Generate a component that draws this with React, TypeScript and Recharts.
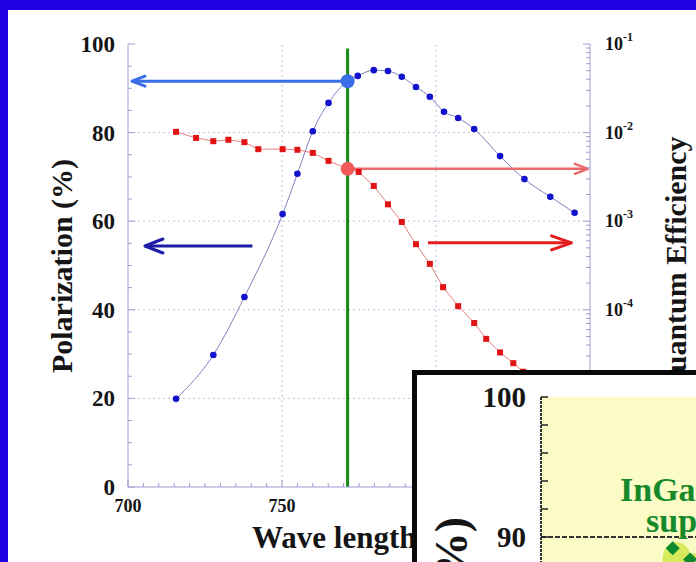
import React from 'react';
import { ComposedChart, Line, Scatter, XAxis, YAxis, ReferenceLine, ReferenceDot, CartesianGrid } from 'recharts';

const FONT = '"Liberation Serif", "Times New Roman", serif';
const FRAME = '#9e9ed2';

// ---- main chart data ----
const polWave = [715.6, 727.7, 737.8, 750.2, 755.0, 760.0, 765.1, 771.3, 774.6, 779.8, 784.4, 788.9, 793.5, 798.0, 802.6, 807.2, 812.4, 820.8, 828.7, 837.1, 845.0];
const polValue = [19.9, 29.8, 42.9, 61.6, 70.7, 80.3, 86.7, 91.6, 92.8, 94.1, 93.9, 92.6, 90.3, 88.1, 84.7, 83.3, 80.8, 74.7, 69.5, 65.5, 61.9];

const qeWave = [715.6, 722.1, 727.7, 732.6, 737.8, 742.3, 750.2, 755.0, 760.0, 765.1, 771.3, 774.9, 779.8, 784.4, 788.9, 793.5, 798.0, 802.3, 807.2, 812.4, 816.3, 820.8, 825.1, 828.3];
const qeValue = [1.02e-2, 8.7e-3, 8.0e-3, 8.3e-3, 7.8e-3, 6.5e-3, 6.5e-3, 6.4e-3, 5.9e-3, 4.8e-3, 3.9e-3, 3.6e-3, 2.5e-3, 1.55e-3, 9.8e-4, 5.5e-4, 3.3e-4, 1.8e-4, 1.1e-4, 7.1e-5, 4.7e-5, 3.3e-5, 2.5e-5, 2.0e-5];

const markerWave = 771.3;
const markerPol = 91.6;
const markerQE = 3.9e-3;
const markerLineTop = 99;

// tick labels that are visible (the rest lie under the inset)
const xLabelTicks = [700, 750];
const xMajorTicks = [700, 750, 800, 850];
const leftMajorTicks = [0, 20, 40, 60, 80, 100];
const rightDecades = [-6, -5, -4, -3, -2, -1];
const rightLabelDecades = [-4, -3, -2, -1];
const gridX = [750, 800];
const gridY = [20, 40, 60, 80];

// arrows: axis, start wavelength, end wavelength, level
const arrowAxis = ['left', 'right', 'left', 'right'];
const arrowFrom = [771.3, 771.3, 740.4, 797.4];
const arrowTo = [701.3, 849.3, 705.5, 844.0];
const arrowLevel = [91.6, 3.9e-3, 54.4, 5.7e-4];

// ---- inset data ----
const insetX = [6.9, 8.9];
const insetY = [89.2, 88.4];
const insetYTicks = [80, 82, 84, 86, 88, 90, 92, 94, 96, 98, 100];
const insetYLabels = [90, 100];
const insetXTicks = [2, 3, 4, 5, 6, 7, 8, 9, 10, 20, 30, 40, 50, 60, 70, 80, 90, 100];

const polData = polWave.map((x, i) => ({ x, y: polValue[i] }));
const qeData = qeWave.map((x, i) => ({ x, y: qeValue[i] }));
const insetData = insetX.map((x, i) => ({ x, y: insetY[i] }));

const xMinor: number[] = [];
for (let v = 700; v <= 850; v += 5) xMinor.push(v);
const leftMinor: number[] = [];
for (let v = 0; v <= 100; v += 5) leftMinor.push(v);
const rightTicks: number[] = [];
rightDecades.forEach((e) => {
  for (let m = 1; m <= 9; m++) {
    const v = m * Math.pow(10, e);
    if (v <= 0.1 * 1.0001) rightTicks.push(v);
  }
});

const arrowStyles = [
  { color: '#3a6ee8', width: 3, head: 13, spread: 5 },
  { color: '#ec6a6a', width: 2.5, head: 13, spread: 5 },
  { color: '#1c1ca6', width: 3, head: 18, spread: 7 },
  { color: '#e41e1e', width: 3, head: 20, spread: 7 },
];

const makeArrow = (style: any) => (props: any) => {
  const { x1, y1, x2, y2 } = props;
  const dir = Math.sign(x2 - x1);
  return (
    <g>
      <line x1={x1} y1={y1} x2={x2} y2={y2} stroke={style.color} strokeWidth={style.width} />
      <polyline
        points={`${x2 - dir * style.head},${y2 - style.spread} ${x2},${y2} ${x2 - dir * style.head},${y2 + style.spread}`}
        fill="none"
        stroke={style.color}
        strokeWidth={style.width}
        strokeLinecap="round"
        strokeLinejoin="round"
      />
    </g>
  );
};

const BottomTick = (props: any) => {
  const { x, y, payload } = props;
  const v = payload.value;
  const major = xMajorTicks.includes(v);
  return (
    <g>
      <line x1={x} y1={y} x2={x} y2={y - (major ? 7 : 4)} stroke={FRAME} />
      {xLabelTicks.includes(v) && (
        <text x={x} y={y + 25} textAnchor="middle" fontSize={18} fontWeight="bold" fontFamily={FONT} fill="#151515">
          {v}
        </text>
      )}
    </g>
  );
};

const TopTick = (props: any) => {
  const { x, y, payload } = props;
  const major = xMajorTicks.includes(payload.value);
  return <line x1={x} y1={y} x2={x} y2={y + (major ? 7 : 4)} stroke={FRAME} />;
};

const LeftTick = (props: any) => {
  const { x, y, payload } = props;
  const v = payload.value;
  const major = leftMajorTicks.includes(v);
  return (
    <g>
      <line x1={x} y1={y} x2={x + (major ? 7 : 4)} y2={y} stroke={FRAME} />
      {major && (
        <text x={x - 13} y={y} dy="0.35em" textAnchor="end" fontSize={23} fontWeight="bold" fontFamily={FONT} fill="#151515">
          {v}
        </text>
      )}
    </g>
  );
};

const RightTick = (props: any) => {
  const { x, y, payload } = props;
  const v = payload.value;
  const e = Math.round(Math.log10(v));
  const decade = Math.abs(v - Math.pow(10, e)) / v < 1e-6;
  return (
    <g>
      <line x1={x} y1={y} x2={x - (decade ? 7 : 4)} y2={y} stroke={FRAME} />
      {decade && rightLabelDecades.includes(e) && (
        <text x={x + 15} y={y + 6} fontSize={18} fontWeight="bold" fontFamily={FONT} fill="#151515">
          <tspan>10</tspan>
          <tspan dy={-9} fontSize={12}>{`-${-e}`}</tspan>
        </text>
      )}
    </g>
  );
};

const BlueDot = (p: any) => <circle key={`b${p.index}`} cx={p.cx} cy={p.cy} r={3.3} fill="#1212cc" />;
const RedDot = (p: any) => <rect key={`r${p.index}`} x={p.cx - 3} y={p.cy - 3} width={6} height={6} fill="#e01414" />;

const InsetLeftTick = (props: any) => {
  const { x, y, payload } = props;
  const v = payload.value;
  return (
    <g>
      <line x1={x} y1={y} x2={x + 7} y2={y} stroke="#222" strokeWidth={1.5} />
      {insetYLabels.includes(v) && (
        <text x={x - 15} y={y} dy="0.35em" textAnchor="end" fontSize={29} fontWeight="bold" fontFamily={FONT} fill="#151515">
          {v}
        </text>
      )}
    </g>
  );
};

const InsetTopTick = (props: any) => {
  const { x, y } = props;
  return <line x1={x} y1={y} x2={x} y2={y + 6} stroke="#222" strokeWidth={1.5} />;
};

const Diamond = (p: any) => {
  const { cx, cy } = p;
  const s = 7;
  return (
    <g>
      <ellipse cx={cx + 4} cy={cy + 10} rx={14} ry={16} fill="#cfe64a" opacity={0.85} />
      <polygon points={`${cx},${cy - s} ${cx + s},${cy} ${cx},${cy + s} ${cx - s},${cy}`} fill="#0e8a2e" />
    </g>
  );
};

export default function App() {
  return (
    <div style={{ position: 'fixed', left: 0, top: 0, width: 696, height: 562, overflow: 'hidden', background: '#2000e0' }}>
      <div style={{ position: 'absolute', left: 8, top: 10, right: 0, bottom: 0, background: '#ffffff' }} />
      <div style={{ position: 'absolute', left: 0, top: 0 }}>
        <ComposedChart width={696} height={562} margin={{ top: 44, right: 46, bottom: 45, left: 68 }}>
          <XAxis
            xAxisId="bottom"
            dataKey="x"
            type="number"
            domain={[700, 850]}
            ticks={xMinor}
            interval={0}
            allowDataOverflow
            height={30}
            tickSize={0}
            tickMargin={0}
            tickLine={false}
            axisLine={{ stroke: FRAME }}
            tick={<BottomTick />}
            label={{
              content: () => (
                <text x={252} y={548} fontSize={31} fontWeight="bold" fontFamily={FONT} fill="#151515">
                  Wave length (nm)
                </text>
              ),
            }}
          />
          <XAxis
            xAxisId="top"
            orientation="top"
            dataKey="x"
            type="number"
            domain={[700, 850]}
            ticks={xMinor}
            interval={0}
            allowDataOverflow
            height={0}
            tickSize={0}
            tickMargin={0}
            tickLine={false}
            axisLine={{ stroke: FRAME }}
            tick={<TopTick />}
          />
          <YAxis
            yAxisId="left"
            type="number"
            domain={[0, 100]}
            ticks={leftMinor}
            interval={0}
            width={60}
            tickSize={0}
            tickMargin={0}
            tickLine={false}
            axisLine={{ stroke: FRAME }}
            tick={<LeftTick />}
            label={{
              content: () => (
                <text x={72} y={266} transform="rotate(-90, 72, 266)" textAnchor="middle" fontSize={30} fontWeight="bold" fontFamily={FONT} fill="#151515">
                  Polarization (%)
                </text>
              ),
            }}
          />
          <YAxis
            yAxisId="right"
            orientation="right"
            type="number"
            scale="log"
            domain={[1e-6, 1e-1]}
            allowDataOverflow
            ticks={rightTicks}
            interval={0}
            width={60}
            tickSize={0}
            tickMargin={0}
            tickLine={false}
            axisLine={{ stroke: FRAME }}
            tick={<RightTick />}
            label={{
              content: () => (
                <text x={686} y={266} transform="rotate(-90, 686, 266)" textAnchor="middle" fontSize={30} fontWeight="bold" fontFamily={FONT} fill="#151515">
                  Quantum Efficiency
                </text>
              ),
            }}
          />
          {gridX.map((v) => (
            <ReferenceLine key={`gx${v}`} x={v} xAxisId="bottom" yAxisId="left" stroke="#c2c2dc" strokeDasharray="2 3" />
          ))}
          {gridY.map((v) => (
            <ReferenceLine key={`gy${v}`} y={v} xAxisId="bottom" yAxisId="left" stroke="#c2c2dc" strokeDasharray="2 3" />
          ))}
          <Line
            data={qeData}
            dataKey="y"
            xAxisId="bottom"
            yAxisId="right"
            type="linear"
            stroke="#e88080"
            strokeWidth={1}
            dot={RedDot}
            isAnimationActive={false}
          />
          <Line
            data={polData}
            dataKey="y"
            xAxisId="bottom"
            yAxisId="left"
            type="monotone"
            stroke="#8080c0"
            strokeWidth={1}
            dot={BlueDot}
            isAnimationActive={false}
          />
          <ReferenceLine
            xAxisId="bottom"
            yAxisId="left"
            segment={[
              { x: markerWave, y: 0 },
              { x: markerWave, y: markerLineTop },
            ]}
            stroke="#148c14"
            strokeWidth={3}
          />
          {arrowAxis.map((ax, i) => (
            <ReferenceLine
              key={`ar${i}`}
              xAxisId="bottom"
              yAxisId={ax}
              segment={[
                { x: arrowFrom[i], y: arrowLevel[i] },
                { x: arrowTo[i], y: arrowLevel[i] },
              ]}
              shape={makeArrow(arrowStyles[i])}
            />
          ))}
          <ReferenceDot x={markerWave} y={markerPol} xAxisId="bottom" yAxisId="left" r={7} fill="#3a6ee8" stroke="none" />
          <ReferenceDot x={markerWave} y={markerQE} xAxisId="bottom" yAxisId="right" r={7} fill="#f25a5a" stroke="none" />
        </ComposedChart>
      </div>

      <div
        style={{
          position: 'absolute',
          left: 412,
          top: 370,
          width: 480,
          height: 360,
          border: '5px solid #0a0a0a',
          background: '#ffffff',
          boxSizing: 'border-box',
          overflow: 'hidden',
        }}
      >
        <ComposedChart width={448} height={320} margin={{ top: 22, right: 10, bottom: 18, left: 44 }}>
          <CartesianGrid xAxisId="top" yAxisId="p" horizontal={false} vertical={false} fill="#fbfbc6" />
          <XAxis
            xAxisId="top"
            orientation="top"
            dataKey="x"
            type="number"
            scale="log"
            domain={[1, 100]}
            allowDataOverflow
            ticks={insetXTicks}
            interval={0}
            height={0}
            tickSize={0}
            tickMargin={0}
            tickLine={false}
            axisLine={{ stroke: '#333', strokeWidth: 2, strokeDasharray: '3 1' }}
            tick={<InsetTopTick />}
          />
          <YAxis
            yAxisId="p"
            type="number"
            domain={[80, 100]}
            ticks={insetYTicks}
            interval={0}
            width={80}
            tickSize={0}
            tickMargin={0}
            tickLine={false}
            axisLine={{ stroke: '#333', strokeWidth: 2, strokeDasharray: '3 1' }}
            tick={<InsetLeftTick />}
          />
          <ReferenceLine y={90} xAxisId="top" yAxisId="p" stroke="#333" strokeWidth={2} strokeDasharray="5 2" />
          <Scatter data={insetData} dataKey="y" xAxisId="top" yAxisId="p" shape={Diamond} isAnimationActive={false} />
        </ComposedChart>
        <svg width={470} height={350} style={{ position: 'absolute', left: 0, top: 0, pointerEvents: 'none' }}>
          <text x={203} y={126} fontSize={34} fontWeight="bold" fontFamily={FONT} fill="#168a2a">
            InGaAs/GaAsP
          </text>
          <text x={229} y={157} fontSize={34} fontWeight="bold" fontFamily={FONT} fill="#168a2a">
            superlattice
          </text>
          <text x={50} y={142} transform="rotate(-90, 50, 142)" textAnchor="end" fontSize={46} fontWeight="bold" fontFamily={FONT} fill="#151515">
            Polarization (%)
          </text>
        </svg>
      </div>
    </div>
  );
}
